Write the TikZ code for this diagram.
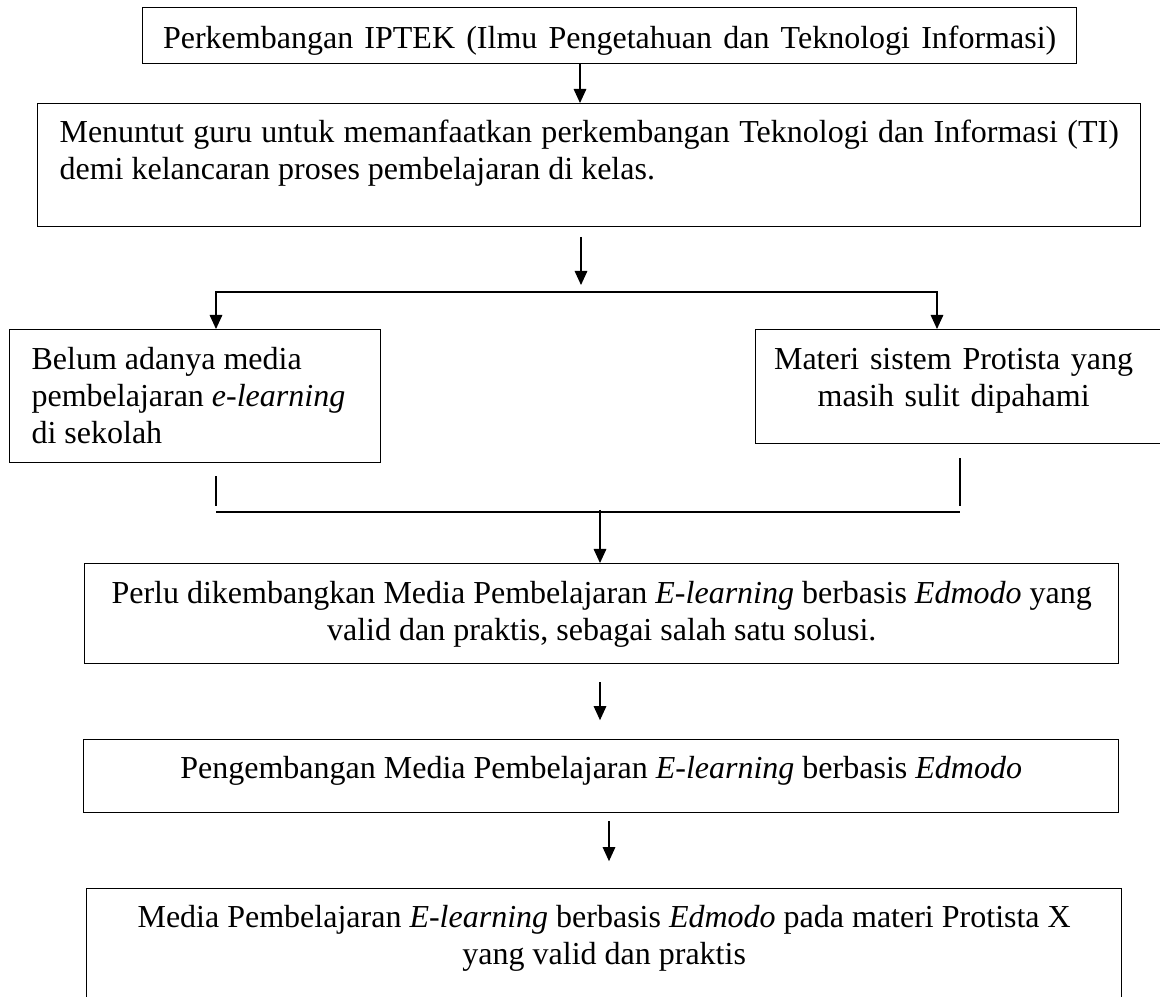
\documentclass[tikz,border=0pt]{standalone}
\usepackage{fontspec}
\setmainfont{Liberation Serif}
\usepackage{tikz}
\usetikzlibrary{arrows.meta}
\tikzset{
  kotak/.style={draw, line width=0.8pt, anchor=north west, inner xsep=0.55cm, inner ysep=0pt,
    font=\fontsize{22.76pt}{26.3pt}\selectfont},
  panah/.style={line width=0.8pt, arrows={-Triangle[length=10pt,width=9pt]}},
  garis/.style={line width=0.8pt}
}
\begin{document}
\begin{tikzpicture}[x=0.025cm, y=-0.025cm]
  \useasboundingbox (0,0) rectangle (1160,997);
% kotak atas
  \node[kotak, align=justify, inner xsep=0.5125cm, text width=22.325cm, text height=1.025cm, text depth=0.375cm] (iptek) at (142,7) {\parfillskip=0pt Perkembangan IPTEK (Ilmu Pengetahuan dan Teknologi Informasi)\par};
  \node[kotak, align=justify, text width=26.475cm, text height=0.975cm, text depth=2.1cm] (tuntut) at (37,103) {Menuntut guru untuk memanfaatkan perkembangan Teknologi dan Informasi (TI)\linebreak{} demi kelancaran proses pembelajaran di kelas.};
% dua masalah
  \node[kotak, align=flush left, text width=8.175cm, text height=1cm, text depth=2.325cm] (belum) at (9,329) {Belum adanya media\\ pembelajaran \textit{e-learning}\\ di sekolah};
  \node[kotak, inner xsep=0.25cm, text width=11cm, text height=1cm, text depth=1.85cm] (materi) at (755,329) {\leftskip=0pt plus 1fil\rightskip=1.6cm plus 1fil\parfillskip=0pt Materi sistem Protista yang\par masih sulit dipahami\par};
% solusi dan hasil
  \node[kotak, align=flush center, inner xsep=0.25cm, text width=25.35cm, text height=1cm, text depth=1.5cm] (perlu) at (84,563) {Perlu dikembangkan Media Pembelajaran \textit{E-learning} berbasis \textit{Edmodo} yang\\ valid dan praktis, sebagai salah satu solusi.};
  \node[kotak, align=flush center, inner xsep=0.25cm, text width=25.375cm, text height=0.975cm, text depth=0.85cm] (kembang) at (83,739) {Pengembangan Media Pembelajaran \textit{E-learning} berbasis \textit{Edmodo}};
  \node[kotak, align=flush center, inner xsep=0.25cm, text width=25.375cm, text height=0.975cm, text depth=2.5cm] (media) at (86,888) {Media Pembelajaran \textit{E-learning} berbasis \textit{Edmodo} pada materi Protista X\\ yang valid dan praktis};

% panah
  \draw[panah] (580,0 |- iptek.south) -- (580,0 |- tuntut.north);
  \coordinate (atas) at (581,237);
  \coordinate (cabang) at (581,292);
  \draw[panah] (atas) -- ++(0,48);
  \draw[panah] (cabang) -| (belum.north -| 216,0);
  \draw[panah] (cabang) -| (materi.north -| 937,0);

  \draw[garis] (belum.south -| 216,0) ++(0,13) -- ++(0,30);
  \draw[garis] (materi.south -| 960,0) ++(0,14) -- ++(0,48);
  \coordinate (gabung) at (600,512);
  \draw[garis] (216,512) -- (960,512);
  \draw[panah] (gabung) ++(0,-2) -- (perlu.north -| gabung);

  \draw[panah] (perlu.south -| 600,0) ++(0,18) -- ++(0,38);
  \draw[panah] (kembang.south -| 609,0) ++(0,8) -- ++(0,40);
\end{tikzpicture}
\end{document}
